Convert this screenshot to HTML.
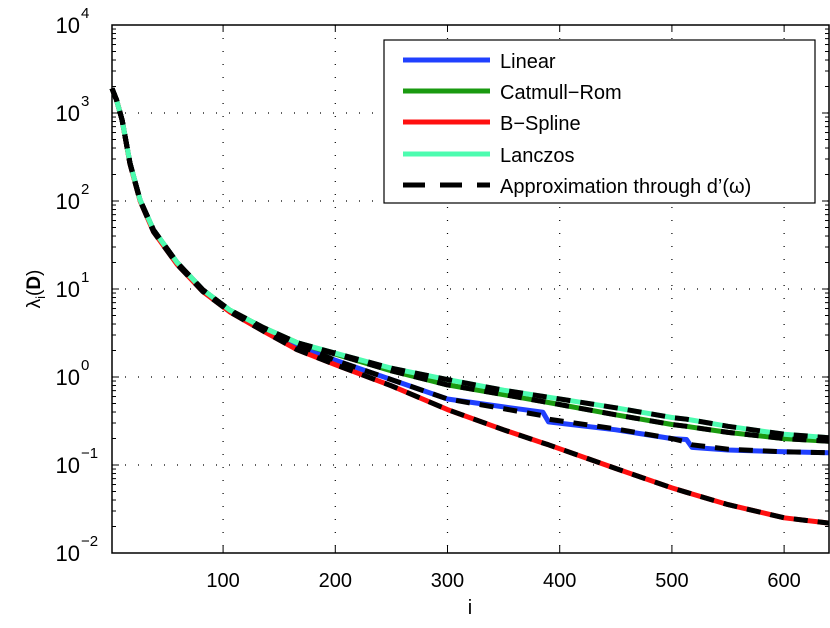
<!DOCTYPE html>
<html><head><meta charset="utf-8"><style>
html,body{margin:0;padding:0;background:#fff;}
svg text{font-family:"Liberation Sans",sans-serif;fill:#000;}
</style></head><body>
<svg id="chart" width="830" height="623" xmlns="http://www.w3.org/2000/svg">
<g id="grid"></g>
<g id="series"></g>
<rect x="112" y="25" width="717" height="528" fill="none" stroke="#000" stroke-width="1.5"/>
<g id="ticks"></g>
<text x="470" y="614" font-size="20" text-anchor="middle">i</text>
<text transform="translate(40,289) rotate(-90)" font-size="19" text-anchor="middle">λ<tspan font-size="13" dy="5">i</tspan><tspan dy="-5">(</tspan><tspan font-weight="bold">D</tspan>)</text>
<g>
<rect x="384" y="40" width="431" height="163" fill="#fff" stroke="#000" stroke-width="1.2"/>
<line x1="403" y1="60" x2="490" y2="60" stroke="#2040ff" stroke-width="5"/>
<text x="500" y="68" font-size="20">Linear</text>
<line x1="403" y1="91" x2="490" y2="91" stroke="#1a9a10" stroke-width="5"/>
<text x="500" y="99" font-size="20">Catmull−Rom</text>
<line x1="403" y1="122" x2="490" y2="122" stroke="#ff1010" stroke-width="5"/>
<text x="500" y="130" font-size="20">B−Spline</text>
<line x1="403" y1="154" x2="490" y2="154" stroke="#4dfcb0" stroke-width="5"/>
<text x="500" y="162" font-size="20">Lanczos</text>
<line x1="403" y1="185" x2="490" y2="185" stroke="#000" stroke-width="5" stroke-dasharray="22,15"/>
<text x="500" y="193" font-size="20">Approximation through d’(ω)</text>
</g>
</svg>
<script>
const xs = [1,5,10,17,26,38,59,82,106,136,166,200,250,300,350,385,390,450,500,513,518,550,600,640];
const lanczosLog = [3.28,3.15,2.92,2.43,2.01,1.67,1.30,0.99,0.76,0.56,0.39,0.27,0.10,-0.03,-0.15,-0.22,-0.23,-0.35,-0.46,-0.48,-0.49,-0.56,-0.65,-0.69];
const catmullLog = [3.28,3.15,2.92,2.43,2.01,1.67,1.30,0.99,0.76,0.56,0.39,0.26,0.07,-0.09,-0.20,-0.28,-0.29,-0.43,-0.54,-0.56,-0.57,-0.63,-0.70,-0.73];
const linearLog = [3.28,3.15,2.92,2.43,2.01,1.67,1.30,0.99,0.75,0.55,0.37,0.19,-0.03,-0.25,-0.34,-0.40,-0.51,-0.60,-0.70,-0.71,-0.80,-0.83,-0.85,-0.86];
const linearApproxLog = [3.28,3.15,2.92,2.43,2.01,1.67,1.30,0.99,0.75,0.55,0.37,0.19,-0.03,-0.25,-0.36,-0.44,-0.48,-0.59,-0.70,-0.74,-0.77,-0.82,-0.85,-0.86];
const bsplineLog = [3.28,3.15,2.92,2.42,2.00,1.65,1.28,0.97,0.74,0.52,0.31,0.14,-0.10,-0.37,-0.60,-0.75,-0.77,-1.04,-1.26,-1.31,-1.33,-1.45,-1.60,-1.66];
const xTicks = [100,200,300,400,500,600];
const yTickExps = [-2,-1,0,1,2,3,4];

const NS = "http://www.w3.org/2000/svg";
const L=112,R=829,T=25,B=553,X0=1,X1=640,E0=-2,E1=4;
function sx(v){return L+(v-X0)/(X1-X0)*(R-L);}
function sy(e){return B-(e-E0)/(E1-E0)*(B-T);}
function mk(tag,attrs,parent){const el=document.createElementNS(NS,tag);for(const k in attrs)el.setAttribute(k,attrs[k]);parent.appendChild(el);return el;}
const grid=document.getElementById('grid'),ticks=document.getElementById('ticks'),ser=document.getElementById('series');
xTicks.forEach(v=>{
  const x=sx(v);
  const g=mk('line',{x1:x,y1:T,x2:x,y2:B,stroke:'#000','stroke-width':1.2,'stroke-dasharray':'1,12'},grid);
  
  
  mk('line',{x1:x,y1:B,x2:x,y2:B-7,stroke:'#000','stroke-width':1},ticks);
  mk('line',{x1:x,y1:T,x2:x,y2:T+7,stroke:'#000','stroke-width':1},ticks);
  const t=mk('text',{x:x,y:587,'font-size':20,'text-anchor':'middle'},ticks);
  t.textContent=v;
  
  
});
yTickExps.forEach(e=>{
  const y=sy(e);
  if(e>E0&&e<E1){const g=mk('line',{x1:L,y1:y,x2:R,y2:y,stroke:'#000','stroke-width':1.2,'stroke-dasharray':'1,12'},grid);
  
  }
  mk('line',{x1:L,y1:y,x2:L+7,y2:y,stroke:'#000','stroke-width':1},ticks);
  mk('line',{x1:R,y1:y,x2:R-7,y2:y,stroke:'#000','stroke-width':1},ticks);
  if(e<E1){for(let m=2;m<10;m++){const yy=sy(e+Math.log10(m));
    mk('line',{x1:L,y1:yy,x2:L+4,y2:yy,stroke:'#000','stroke-width':1},ticks);
    mk('line',{x1:R,y1:yy,x2:R-4,y2:yy,stroke:'#000','stroke-width':1},ticks);}}
  const t=mk('text',{x:80,y:y+8,'font-size':22,'text-anchor':'end'},ticks);
  t.textContent='10';
  
  
  const s=mk('text',{x:81,y:y-7,'font-size':15,'text-anchor':'start'},ticks);
  s.textContent=e<0?'−'+(-e):String(e);
});
function path(arr){return xs.map((v,i)=>(i?'L':'M')+sx(v).toFixed(1)+','+sy(arr[i]).toFixed(1)).join(' ');}
function line(arr,color,w,dash,name){
  const p=mk('path',{d:path(arr),fill:'none',stroke:color,'stroke-width':w,'stroke-linejoin':'round'},ser);
  if(dash)p.setAttribute('stroke-dasharray',dash);
  
  
}
line(linearLog,'#2040ff',5,null,'line-linear');
line(catmullLog,'#1a9a10',5,null,'line-catmull-rom');
line(bsplineLog,'#ff1010',5,null,'line-b-spline');
line(lanczosLog,'#4dfcb0',5,null,'line-lanczos');
line(lanczosLog,'#000',5,'14,10','approx-lanczos');
line(catmullLog,'#000',5,'14,10','approx-catmull-rom');
line(linearApproxLog,'#000',5,'14,10','approx-linear');
line(bsplineLog,'#000',5,'14,10','approx-b-spline');
</script>
</body></html>
